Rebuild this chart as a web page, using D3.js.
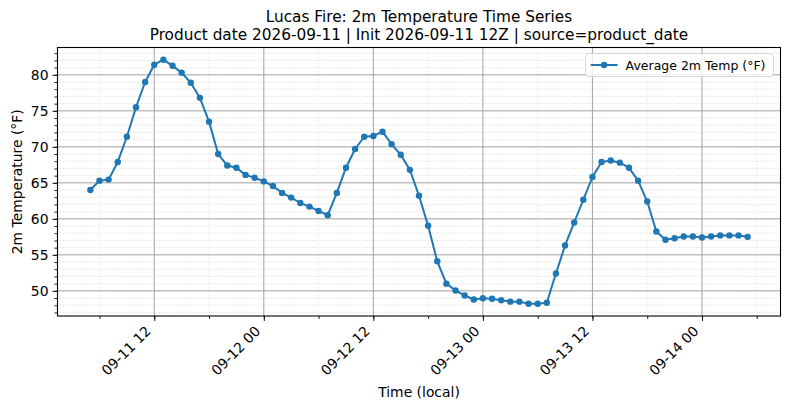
<!DOCTYPE html>
<html>
<head>
<meta charset="utf-8">
<script src="https://cdn.jsdelivr.net/npm/d3@7"></script>
<style>
  body { margin: 0; background: #fff; }
  svg { display: block; font-family: "DejaVu Sans", sans-serif; }
</style>
</head>
<body>
<svg id="chart"></svg>
<script>
// hourly series, local time
const firstHour = "2026-09-11 05:00";
const lastHour = "2026-09-14 05:00";
const temps = [
  64.0, 65.3, 65.45, 67.9, 71.4, 75.5, 79.0, 81.4, 82.1, 81.25,
  80.3, 78.9, 76.8, 73.5, 69.0, 67.4, 67.1, 66.1, 65.7, 65.2,
  64.55, 63.6, 62.95, 62.2, 61.7, 61.1, 60.5, 63.6, 67.1, 69.7,
  71.4, 71.5, 72.1, 70.35, 68.9, 66.8, 63.2, 59.05, 54.1, 51.0,
  50.05, 49.35, 48.8, 48.97, 48.9, 48.7, 48.5, 48.5, 48.2, 48.2,
  48.35, 52.4, 56.3, 59.5, 62.65, 65.8, 67.9, 68.1, 67.8, 67.1,
  65.3, 62.4, 58.25, 57.1, 57.3, 57.55, 57.55, 57.4, 57.55, 57.7,
  57.7, 57.7, 57.5
];
const xTicks = ["2026-09-11 12:00", "2026-09-12 00:00", "2026-09-12 12:00",
                "2026-09-13 00:00", "2026-09-13 12:00", "2026-09-14 00:00"];
const yTicks = [50, 55, 60, 65, 70, 75, 80];
const titleLines = ["Lucas Fire: 2m Temperature Time Series",
                    "Product date 2026-09-11 | Init 2026-09-11 12Z | source=product_date"];
const seriesName = "Average 2m Temp (\u00b0F)";

const parse = d3.timeParse("%Y-%m-%d %H:%M");
const times = d3.timeHour.range(parse(firstHour), d3.timeHour.offset(parse(lastHour), 1));
const data = times.map((t, i) => ({ t, v: temps[i] }));

const W = 789, H = 409;
const L = 57.5, R = 780.5, T = 47.5, B = 316;
const blue = "#1f77b4";

const svg = d3.select("#chart").attr("width", W).attr("height", H);

// matplotlib-like 5% margins
const t0 = times[0], t1 = times[times.length - 1];
const pad = (t1 - t0) * 0.05;
const x = d3.scaleTime().domain([new Date(+t0 - pad), new Date(+t1 + pad)]).range([L, R]);
const [vmin, vmax] = d3.extent(temps);
const vp = (vmax - vmin) * 0.05;
const y = d3.scaleLinear().domain([vmin - vp, vmax + vp]).range([B, T]);

const majorX = xTicks.map(parse);
const minorX = d3.timeHour.every(6).range(x.domain()[0], x.domain()[1]);
const minorY = d3.range(Math.ceil(y.domain()[0]), Math.floor(y.domain()[1]) + 1);

// grid
const grid = svg.append("g");
grid.selectAll(".mgy").data(minorY).enter().append("line")
  .attr("x1", L).attr("x2", R)
  .attr("y1", d => y(d)).attr("y2", d => y(d))
  .attr("stroke", "#cfcfcf").attr("stroke-width", 0.7).attr("stroke-dasharray", "1,1.6");
grid.selectAll(".mgx").data(minorX).enter().append("line")
  .attr("y1", T).attr("y2", B)
  .attr("x1", d => x(d)).attr("x2", d => x(d))
  .attr("stroke", "#dcdcdc").attr("stroke-width", 0.7).attr("stroke-dasharray", "1,1.6");
grid.selectAll(".gy").data(yTicks).enter().append("line")
  .attr("x1", L).attr("x2", R)
  .attr("y1", d => y(d)).attr("y2", d => y(d))
  .attr("stroke", "#a6a6a6").attr("stroke-width", 1);
grid.selectAll(".gx").data(majorX).enter().append("line")
  .attr("y1", T).attr("y2", B)
  .attr("x1", d => x(d)).attr("x2", d => x(d))
  .attr("stroke", "#a6a6a6").attr("stroke-width", 1);

// line + markers
svg.append("path").datum(data)
  .attr("fill", "none").attr("stroke", blue).attr("stroke-width", 2)
  .attr("stroke-linejoin", "round")
  .attr("d", d3.line().x(d => x(d.t)).y(d => y(d.v)));
svg.selectAll(".pt").data(data).enter().append("circle")
  .attr("cx", d => x(d.t)).attr("cy", d => y(d.v)).attr("r", 3.2)
  .attr("fill", blue);

// axes
const fmt = d3.timeFormat("%m-%d %H");
const xAxis = svg.append("g").attr("transform", `translate(0,${B})`)
  .call(d3.axisBottom(x).tickValues(majorX).tickSize(5).tickFormat(fmt));
svg.append("g").attr("transform", `translate(0,${B})`)
  .call(d3.axisBottom(x).tickValues(minorX).tickSize(3).tickFormat(""))
  .call(g => g.select(".domain").remove());
xAxis.selectAll("text")
  .attr("font-size", 13.9).attr("font-family", "DejaVu Sans")
  .attr("text-anchor", "end")
  .attr("dy", null).attr("y", 0)
  .attr("transform", "translate(-3,16) rotate(-45)");

const yAxis = svg.append("g").attr("transform", `translate(${L},0)`)
  .call(d3.axisLeft(y).tickValues(yTicks).tickSize(5).tickPadding(4));
svg.append("g").attr("transform", `translate(${L},0)`)
  .call(d3.axisLeft(y).tickValues(minorY).tickSize(3).tickFormat(""))
  .call(g => g.select(".domain").remove());
yAxis.selectAll("text").attr("font-size", 13.9).attr("font-family", "DejaVu Sans");

svg.selectAll(".domain").remove();
svg.selectAll(".tick line").attr("stroke", "#000").attr("stroke-width", 0.9);
svg.append("rect").attr("x", L).attr("y", T).attr("width", R - L).attr("height", B - T)
  .attr("fill", "none").attr("stroke", "#000").attr("stroke-width", 1.1);

// titles and labels
const cx = (L + R) / 2;
svg.append("text").attr("x", cx).attr("y", 22).attr("text-anchor", "middle")
  .attr("font-size", 15.3).text(titleLines[0]);
svg.append("text").attr("x", cx).attr("y", 40).attr("text-anchor", "middle")
  .attr("font-size", 15.3).text(titleLines[1]);
svg.append("text").attr("x", cx).attr("y", 397).attr("text-anchor", "middle")
  .attr("font-size", 13.9).text("Time (local)");
svg.append("text")
  .attr("transform", `translate(22,${(T + B) / 2}) rotate(-90)`)
  .attr("text-anchor", "middle").attr("font-size", 13.9).text("2m Temperature (\u00b0F)");

// legend
const lg = svg.append("g").attr("transform", `translate(${R - 7},${T + 6})`);
const lgText = lg.append("text").attr("font-size", 12.5).attr("y", 16).text(seriesName);
const tw = lgText.node().getComputedTextLength();
const boxW = tw + 48;
lgText.attr("x", -boxW + 40);
lg.insert("rect", "text").attr("x", -boxW).attr("y", 0).attr("width", boxW).attr("height", 23)
  .attr("rx", 3).attr("fill", "#fff").attr("fill-opacity", 0.8).attr("stroke", "#d6d6d6");
lg.append("line").attr("x1", -boxW + 5).attr("x2", -boxW + 32).attr("y1", 11.5).attr("y2", 11.5)
  .attr("stroke", blue).attr("stroke-width", 2);
lg.append("circle").attr("cx", -boxW + 18.5).attr("cy", 11.5).attr("r", 3.2).attr("fill", blue);
</script>
</body>
</html>
